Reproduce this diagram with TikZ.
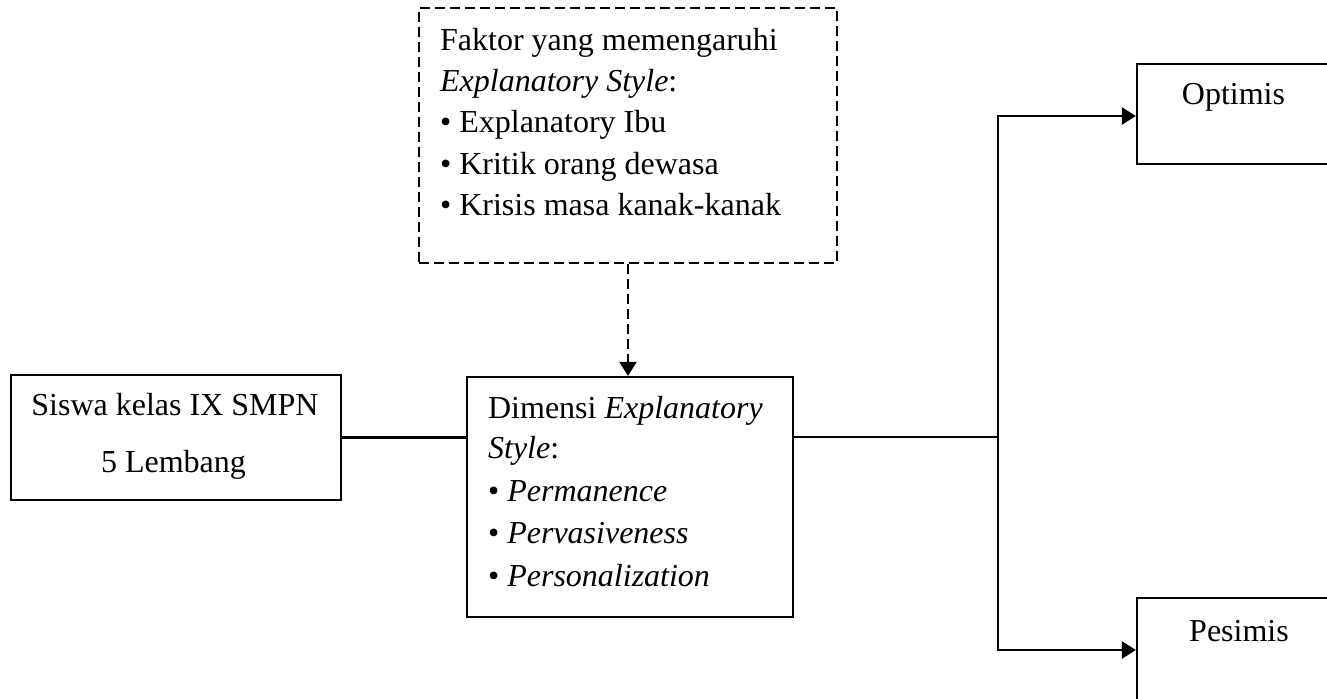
\documentclass[tikz,border=0pt]{standalone}
\usepackage{fontspec}
\setmainfont{Liberation Serif}
\usetikzlibrary{arrows.meta}
\begin{document}
\begin{tikzpicture}[x=0.5pt,y=-0.5pt,line width=1.1pt,
  box/.style={draw,rectangle,inner sep=0pt,line width=1.1pt},
  txt/.style={anchor=base west,inner sep=0pt,font=\fontsize{16}{20}\selectfont},
  ctxt/.style={anchor=base,inner sep=0pt,font=\fontsize{16}{20}\selectfont},
  arr/.style={-{Triangle[length=7pt,width=8.5pt]}},
  dsh/.style={dash pattern=on 5pt off 2.5pt}]
\useasboundingbox (0,0) rectangle (1327,698);
\clip (0,0) rectangle (1327,698);
% boxes
\node[box,minimum width=165pt,minimum height=62.5pt] (siswa) at (176,437.5) {};
\node[box,dsh,minimum width=209pt,minimum height=127.5pt] (faktor) at (628,135.5) {};
\node[box,minimum width=163pt,minimum height=120pt] (dim) at (630,497) {};
\node[box,minimum width=97.5pt,minimum height=50pt] (opt) at (1234.5,114) {};
\node[box,minimum width=97.5pt,minimum height=51pt] (pes) at (1234.5,649) {};
% texts
\node[ctxt] (s1) at (175,415) {Siswa kelas IX SMPN};
\node[ctxt] (s2) at (173.5,472) {5 Lembang};
\node[txt] (f1) at (439,50) {Faktor yang memengaruhi};
\node[txt] (f2) at (439,91) {\textit{Explanatory Style}:};
\node[txt] (f3) at (439,132.5) {• Explanatory Ibu};
\node[txt] (f4) at (439,174) {• Kritik orang dewasa};
\node[txt] (f5) at (439,215.5) {• Krisis masa kanak-kanak};
\node[txt] (d1) at (487,418) {Dimensi \textit{Explanatory}};
\node[txt] (d2) at (487,458) {\textit{Style}:};
\node[txt] (d3) at (487,501.5) {• \textit{Permanence}};
\node[txt] (d4) at (487,543.5) {• \textit{Pervasiveness}};
\node[txt] (d5) at (487,586.5) {• \textit{Personalization}};
\node[ctxt] (o1) at (1233.5,104) {Optimis};
\node[ctxt] (p1) at (1239,641) {Pesimis};
% connectors
\coordinate (split) at (998,437);
\draw (siswa.east) -- (siswa.east -| dim.west);
\draw (dim.east |- split) -- (split);
\draw[arr] (split) |- ([yshift=-1pt]opt.west);
\draw[arr] (split) |- ([yshift=-0.5pt]pes.west);
\draw[arr,dsh] (faktor.south) -- (faktor.south |- dim.north);
\end{tikzpicture}
\end{document}
